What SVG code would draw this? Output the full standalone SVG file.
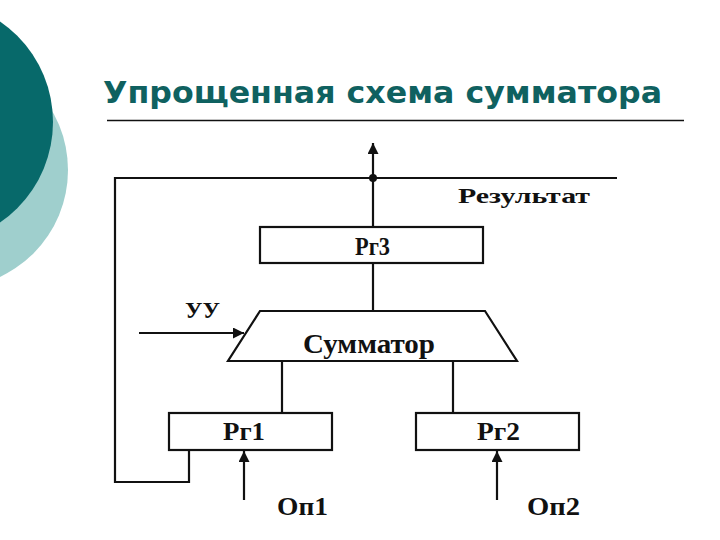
<svg xmlns="http://www.w3.org/2000/svg" width="720" height="540" viewBox="0 0 720 540">
<defs>
<style>
.ln{fill:none;stroke:#111;stroke-width:2.2;stroke-linejoin:miter}
.box{fill:#fff;stroke:#111;stroke-width:2.2}
.t{font-family:"Liberation Serif","DejaVu Serif",serif;font-weight:bold;fill:#111}
.title{font-family:"DejaVu Sans","Liberation Sans",sans-serif;font-weight:bold;fill:#0f6160}
</style>
<marker id="ah" viewBox="0 0 10 10" refX="10" refY="5" markerWidth="5" markerHeight="5" orient="auto" markerUnits="strokeWidth">
<path d="M0,0 L10,5 L0,10 z" fill="#111"/>
</marker>
</defs>
<rect width="720" height="540" fill="#fff"/>
<g id="decor">
<circle cx="-50" cy="170" r="118" fill="#9fcfcd"/>
<circle cx="-69" cy="122" r="122" fill="#07696a"/>
</g>
<g id="title">
<text class="title" x="103" y="103" font-size="30" textLength="559" lengthAdjust="spacingAndGlyphs">Упрощенная схема сумматора</text>
<line x1="107" y1="120.5" x2="684" y2="120.5" stroke="#111" stroke-width="1.3"/>
</g>
<g id="connectors">
<line class="ln" x1="373" y1="227" x2="373" y2="143" marker-end="url(#ah)"/>
<polyline class="ln" points="617,178 115,178 115,482 189,482 189,450"/>
<line class="ln" x1="373" y1="263" x2="373" y2="311"/>
<line class="ln" x1="139" y1="333" x2="244" y2="333" marker-end="url(#ah)"/>
<line class="ln" x1="282" y1="361" x2="282" y2="413"/>
<line class="ln" x1="453" y1="361" x2="453" y2="413"/>
<line class="ln" x1="244" y1="500" x2="244" y2="451" marker-end="url(#ah)"/>
<line class="ln" x1="497" y1="500" x2="497" y2="451" marker-end="url(#ah)"/>
<circle cx="373" cy="178" r="4" fill="#111"/>
</g>
<g id="result">
<text class="t" x="458" y="203" font-size="22" textLength="132" lengthAdjust="spacingAndGlyphs">Результат</text>
</g>
<g id="rg3">
<rect class="box" x="260" y="227" width="223" height="36"/>
<text class="t" x="355" y="255" font-size="26" textLength="35" lengthAdjust="spacingAndGlyphs">Рг3</text>
</g>
<g id="uu">
<text class="t" x="185" y="318" font-size="24" textLength="35" lengthAdjust="spacingAndGlyphs">УУ</text>
</g>
<g id="summator">
<polygon class="box" points="260,311 485,311 517,361 228,361"/>
<text class="t" x="303" y="353" font-size="27" textLength="132" lengthAdjust="spacingAndGlyphs">Сумматор</text>
</g>
<g id="rg1">
<rect class="box" x="169" y="413" width="163" height="37"/>
<text class="t" x="223" y="440" font-size="25" textLength="42" lengthAdjust="spacingAndGlyphs">Рг1</text>
</g>
<g id="rg2">
<rect class="box" x="416" y="413" width="163" height="37"/>
<text class="t" x="477" y="440" font-size="25" textLength="43" lengthAdjust="spacingAndGlyphs">Рг2</text>
</g>
<g id="op1">
<text class="t" x="277" y="515" font-size="26" textLength="51" lengthAdjust="spacingAndGlyphs">Оп1</text>
</g>
<g id="op2">
<text class="t" x="527" y="515" font-size="26" textLength="53" lengthAdjust="spacingAndGlyphs">Оп2</text>
</g>
</svg>
